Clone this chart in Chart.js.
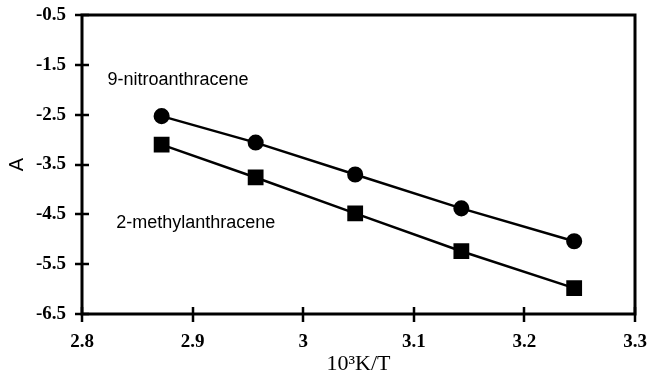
<!DOCTYPE html>
<html>
<head>
<meta charset="utf-8">
<script src="https://cdn.jsdelivr.net/npm/chart.js@4/dist/chart.umd.min.js"></script>
<style>
  html, body { margin: 0; padding: 0; background: #fff; }
  #wrap { width: 649px; height: 377px; }
</style>
</head>
<body>
<div id="wrap"><canvas id="c" width="649" height="377"></canvas></div>
<script>
// ---- data ----
const xValues = [2.872, 2.957, 3.047, 3.143, 3.245];
const nitroValues = [-2.53, -3.06, -3.70, -4.38, -5.04];
const methylValues = [-3.10, -3.76, -4.48, -5.24, -5.98];
const seriesNames = ['9-nitroanthracene', '2-methylanthracene'];
const xTickValues = [2.8, 2.9, 3.0, 3.1, 3.2, 3.3];
const xTickLabels = ['2.8', '2.9', '3', '3.1', '3.2', '3.3'];
const yTickValues = [-6.5, -5.5, -4.5, -3.5, -2.5, -1.5, -0.5];
const yTickLabels = ['-6.5', '-5.5', '-4.5', '-3.5', '-2.5', '-1.5', '-0.5'];
const xTitle = '10\u00B3K/T';
const yTitle = 'A';
// label anchor points (data coords) for the series names
const labelAnchors = [[2.823, -1.80], [2.831, -4.68]];

const toPts = (ys) => xValues.map((x, i) => ({ x: x, y: ys[i] }));

const frame = {
  id: 'frame',
  afterDraw(chart) {
    const ctx = chart.ctx;
    const a = chart.chartArea;
    const xs = chart.scales.x, ys = chart.scales.y;
    ctx.save();
    ctx.strokeStyle = '#000';
    ctx.lineWidth = 3;
    ctx.strokeRect(a.left, a.top, a.right - a.left, a.bottom - a.top);
    ctx.lineWidth = 2.5;
    ctx.beginPath();
    yTickValues.forEach(v => {
      const py = Math.round(ys.getPixelForValue(v));
      ctx.moveTo(a.left - 7, py); ctx.lineTo(a.left + 7, py);
    });
    xTickValues.forEach(v => {
      const px = Math.round(xs.getPixelForValue(v));
      ctx.moveTo(px, a.bottom - 7); ctx.lineTo(px, a.bottom + 8);
    });
    ctx.stroke();
    ctx.fillStyle = '#000';
    ctx.font = '18px "Liberation Sans", Arial, sans-serif';
    ctx.textAlign = 'left';
    ctx.textBaseline = 'middle';
    seriesNames.forEach((n, i) => {
      ctx.fillText(n, xs.getPixelForValue(labelAnchors[i][0]), ys.getPixelForValue(labelAnchors[i][1]));
    });
    ctx.restore();
  }
};

function noPad(s) {
  s.paddingTop = 0; s.paddingBottom = 0; s.paddingLeft = 0; s.paddingRight = 0;
}

new Chart(document.getElementById('c'), {
  type: 'scatter',
  data: {
    datasets: [
      {
        label: seriesNames[0],
        data: toPts(nitroValues),
        showLine: true,
        borderColor: '#000',
        backgroundColor: '#000',
        borderWidth: 2.5,
        pointStyle: 'circle',
        pointRadius: 6.8,
        pointHoverRadius: 6.8
      },
      {
        label: seriesNames[1],
        data: toPts(methylValues),
        showLine: true,
        borderColor: '#000',
        backgroundColor: '#000',
        borderWidth: 2.5,
        pointStyle: 'rect',
        pointRadius: 9.4,
        pointHoverRadius: 9.4
      }
    ]
  },
  options: {
    responsive: false,
    animation: false,
    devicePixelRatio: 1,
    layout: { padding: { top: 15, right: 14, left: 0, bottom: 0 } },
    plugins: { legend: { display: false }, tooltip: { enabled: false } },
    scales: {
      x: {
        type: 'linear',
        min: 2.8, max: 3.3,
        afterBuildTicks(s) { s.ticks = xTickValues.map(v => ({ value: v })); },
        afterFit(s) { s.height = 63; noPad(s); },
        grid: { display: false, drawTicks: false },
        border: { display: false },
        ticks: {
          color: '#000',
          padding: 17,
          maxRotation: 0,
          autoSkip: false,
          font: { family: '"Liberation Serif", "Times New Roman", serif', size: 19, weight: 'bold' },
          callback: (v, i) => xTickLabels[i]
        },
        title: {
          display: true,
          text: xTitle,
          color: '#000',
          font: { family: '"Liberation Serif", "Times New Roman", serif', size: 22 },
          padding: { top: 2, bottom: 0 }
        }
      },
      y: {
        type: 'linear',
        min: -6.5, max: -0.5,
        afterBuildTicks(s) { s.ticks = yTickValues.map(v => ({ value: v })); },
        afterFit(s) { s.width = 82; noPad(s); },
        grid: { display: false, drawTicks: false },
        border: { display: false },
        ticks: {
          color: '#000',
          padding: 16,
          autoSkip: false,
          font: { family: '"Liberation Serif", "Times New Roman", serif', size: 19, weight: 'bold' },
          callback: (v, i) => yTickLabels[i]
        },
        title: {
          display: true,
          text: yTitle,
          color: '#000',
          font: { family: '"Liberation Sans", Arial, sans-serif', size: 20 },
          padding: { top: 5, bottom: 0 }
        }
      }
    }
  },
  plugins: [frame]
});
</script>
</body>
</html>
